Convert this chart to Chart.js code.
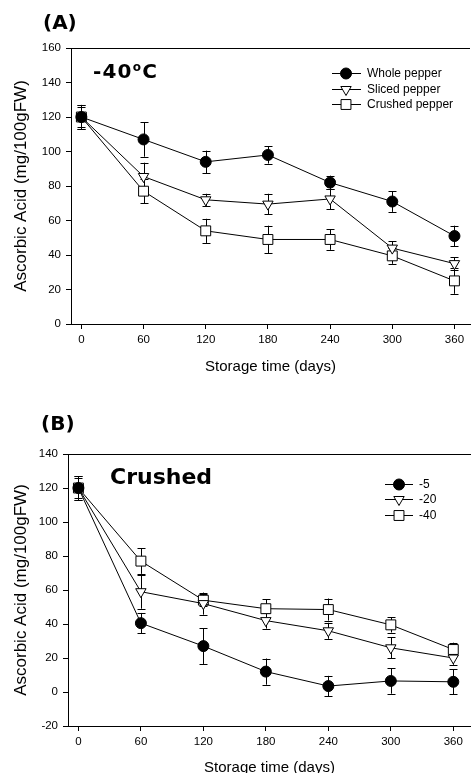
<!DOCTYPE html>
<html><head><meta charset="utf-8">
<script src="https://cdn.jsdelivr.net/npm/chart.js@4.4.0/dist/chart.umd.min.js"></script>
<style>
html,body{margin:0;padding:0;background:#fff;overflow:hidden;width:471px;height:773px;position:relative}
canvas{position:absolute;left:0}
#cA{top:0}
#cB{top:385px}
.lbl{position:absolute;font-family:"DejaVu Sans","Liberation Sans",Arial,sans-serif;font-weight:bold;color:#000;line-height:1;white-space:nowrap}
.lbl sup{font-size:0.6em;vertical-align:0.55em;line-height:0}
</style></head><body>
<canvas id="cA" width="471" height="385"></canvas>
<canvas id="cB" width="471" height="395"></canvas>
<div class="lbl" style="left:43px;top:12px;font-size:20px">(A)</div>
<div class="lbl" style="left:93px;top:61px;font-size:20px;letter-spacing:1.2px">-40<sup>o</sup>C</div>
<div class="lbl" style="left:41px;top:413px;font-size:20px">(B)</div>
<div class="lbl" style="left:110px;top:466px;font-size:22px">Crushed</div>
<script>
// ---- data ----
const days = [0, 60, 120, 180, 240, 300, 360];
const xTickValues = [0, 60, 120, 180, 240, 300, 360];
const xTitle = 'Storage time (days)';
const yTitle = 'Ascorbic Acid (mg/100gFW)';

// Panel A (-40 °C)
const labelsA = ['Whole pepper', 'Sliced pepper', 'Crushed pepper'];
const wholeA = [120, 107, 94, 98, 82, 71, 51];
const wholeAErr = [7, 10, 6.5, 5, 4, 6, 6];
const slicedA = [120, 85.5, 72, 69.5, 72.5, 44, 35];
const slicedAErr = [6, 8, 3.5, 6, 6, 4, 3.7];
const crushedA = [120, 77, 54, 49, 49, 39.5, 25];
const crushedAErr = [7, 7, 7, 8, 6, 4.6, 7.5];

// Panel B (crushed)
const labelsB = ['-5', '-20', '-40'];
const m5B = [120, 40.5, 27, 12, 3.5, 6.5, 6];
const m5BErr = [7, 6, 10.5, 7.7, 6, 7.5, 7.3];
const m20B = [120, 59, 52, 42, 36, 26, 20];
const m20BErr = [6, 10, 6.5, 4.7, 4.7, 6.2, 4];
const m40B = [120, 77, 54, 49, 48.5, 39.5, 25];
const m40BErr = [7, 7.5, 3.6, 5.5, 6.5, 4.5, 4];

// ---- rendering ----
const FAM = '"Liberation Sans", Arial, sans-serif';

const errorBarPlugin = {
  id: 'errorBars',
  beforeDatasetsDraw(chart) {
    const ctx = chart.ctx, xs = chart.scales.x, ys = chart.scales.y;
    const cap = 4;
    ctx.save();
    ctx.strokeStyle = '#000';
    ctx.lineWidth = 1;
    chart.data.datasets.forEach(ds => {
      if (!ds.errors) return;
      ds.data.forEach((p, j) => {
        const e = ds.errors[j];
        const x = Math.round(xs.getPixelForValue(p.x)) + 0.5;
        const y1 = ys.getPixelForValue(p.y - e);
        const y2 = ys.getPixelForValue(p.y + e);
        ctx.beginPath();
        ctx.moveTo(x, y1); ctx.lineTo(x, y2);
        ctx.moveTo(x - cap, Math.round(y1) + 0.5); ctx.lineTo(x + cap, Math.round(y1) + 0.5);
        ctx.moveTo(x - cap, Math.round(y2) + 0.5); ctx.lineTo(x + cap, Math.round(y2) + 0.5);
        ctx.stroke();
      });
    });
    ctx.restore();
  }
};

const frameAndLegendPlugin = {
  id: 'frameLegend',
  afterDraw(chart, args, opts) {
    const ctx = chart.ctx, ca = chart.chartArea;
    ctx.save();
    ctx.strokeStyle = '#000';
    ctx.lineWidth = 1;
    ctx.beginPath();
    ctx.moveTo(ca.left, ca.top + 0.5); ctx.lineTo(ca.right, ca.top + 0.5);
    ctx.stroke();
    chart.data.datasets.forEach((ds, i) => {
      const y = opts.rows[i];
      ctx.strokeStyle = '#000';
      ctx.lineWidth = 1;
      ctx.beginPath();
      ctx.moveTo(opts.x0, y + 0.5); ctx.lineTo(opts.x1, y + 0.5);
      ctx.stroke();
      ctx.fillStyle = ds.pointBackgroundColor;
      ctx.strokeStyle = ds.pointBorderColor;
      ctx.lineWidth = 1;
      Chart.helpers.drawPoint(ctx, {
        pointStyle: ds.pointStyle, radius: ds.pointRadius,
        rotation: ds.pointRotation || 0, borderWidth: 1
      }, opts.xm, y + 0.5);
      ctx.fillStyle = '#000';
      ctx.font = '12px ' + FAM;
      ctx.textBaseline = 'middle';
      ctx.textAlign = 'left';
      ctx.fillText(ds.label, opts.tx, y + 1);
    });
    ctx.restore();
  }
};

function series(vals) { return vals.map((v, i) => ({ x: days[i], y: v })); }

function styles(kind) {
  const base = { borderColor: '#000', borderWidth: 1, tension: 0, fill: false,
    pointBorderColor: '#000', pointBorderWidth: 1 };
  if (kind === 0) return Object.assign(base, { pointStyle: 'circle', pointRadius: 5.5, pointBackgroundColor: '#000' });
  if (kind === 1) return Object.assign(base, { pointStyle: 'triangle', pointRotation: 180, pointRadius: 6, pointBackgroundColor: '#fff' });
  return Object.assign(base, { pointStyle: 'rect', pointRadius: 7, pointBackgroundColor: '#fff' });
}

function makeChart(id, labels, vals, errs, o) {
  const datasets = labels.map((lab, k) => Object.assign({
    label: lab, data: series(vals[k]), errors: errs[k], clip: false
  }, styles(k)));
  return new Chart(document.getElementById(id), {
    type: 'line',
    data: { datasets },
    plugins: [errorBarPlugin, frameAndLegendPlugin],
    options: {
      responsive: false, animation: false, events: [],
      layout: { padding: o.padding, autoPadding: false },
      plugins: {
        legend: { display: false }, tooltip: { enabled: false }, title: { display: false },
        frameLegend: o.legend
      },
      scales: {
        x: {
          type: 'linear', min: o.xMin, max: o.xMax,
          afterBuildTicks: s => { s.ticks = xTickValues.map(v => ({ value: v })); },
          afterFit: s => { s.height = o.xHeight; s.paddingLeft = 0; s.paddingRight = 0; },
          grid: { display: true, drawOnChartArea: false, drawTicks: true, tickLength: 5, tickColor: '#000', color: '#000' },
          border: { display: true, color: '#000', width: 1 },
          ticks: { color: '#000', font: { family: FAM, size: 11.5 }, padding: 4, maxRotation: 0, autoSkip: false },
          title: { display: true, text: xTitle, color: '#000', font: { family: FAM, size: 15 }, padding: { top: 0, bottom: o.xTitlePad } }
        },
        y: {
          type: 'linear', min: o.yMin, max: o.yMax,
          afterFit: s => { s.width = o.yWidth; },
          grid: { display: true, drawOnChartArea: false, drawTicks: true, tickLength: 5, tickColor: '#000', color: '#000' },
          border: { display: true, color: '#000', width: 1 },
          ticks: { stepSize: 20, color: '#000', font: { family: FAM, size: 11.5 }, padding: 5 },
          title: { display: true, text: yTitle, color: '#000', font: { family: FAM, size: 17 }, padding: { top: 11, bottom: 0 } }
        }
      }
    }
  });
}

makeChart('cA', labelsA, [wholeA, slicedA, crushedA], [wholeAErr, slicedAErr, crushedAErr], {
  padding: { top: 48, left: 0, right: 1, bottom: 5 },
  xMin: -10, xMax: 375, yMin: 0, yMax: 160, yWidth: 71, xHeight: 56, xTitlePad: 4,
  legend: { x0: 332, x1: 361, xm: 346, tx: 367, rows: [73, 89, 104] }
});

makeChart('cB', labelsB, [m5B, m20B, m40B], [m5BErr, m20BErr, m40BErr], {
  padding: { top: 69, left: 0, right: 0, bottom: 0 },
  xMin: -10, xMax: 377, yMin: -20, yMax: 140, yWidth: 68, xHeight: 54, xTitlePad: 3,
  legend: { x0: 385, x1: 413, xm: 399, tx: 419, rows: [99, 114, 130] }
});
</script>
</body></html>
